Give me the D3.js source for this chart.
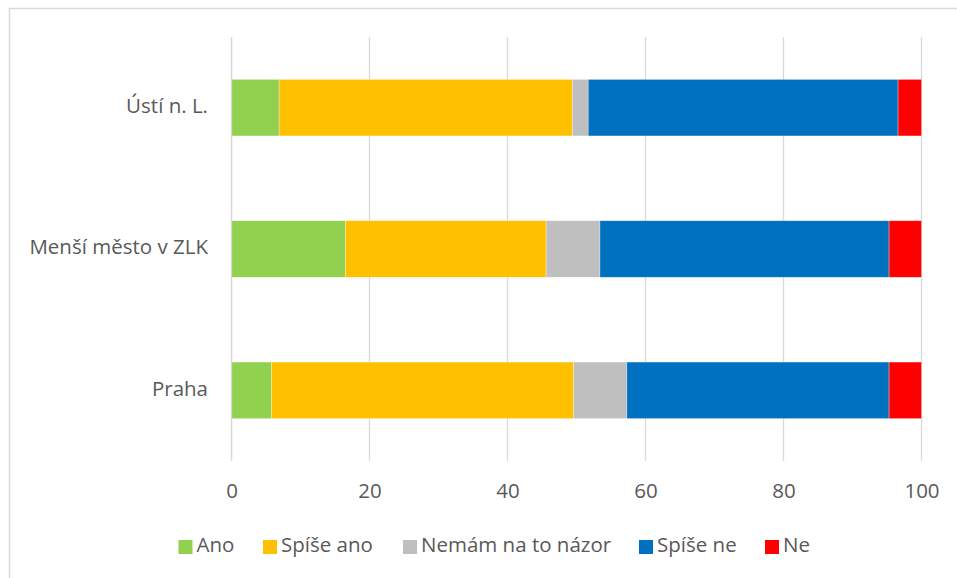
<!DOCTYPE html>
<html>
<head>
<meta charset="utf-8">
<script src="https://cdn.jsdelivr.net/npm/d3@7"></script>
<style>
  html, body { margin: 0; padding: 0; background: #fff; }
  svg { display: block; }
  text { font-family: "Open Sans", sans-serif; fill: #595959; }
</style>
</head>
<body>
<svg id="chart" width="957" height="578"></svg>
<script>
const categories = ["Ústí n. L.", "Menší město v ZLK", "Praha"];
const seriesNames = ["Ano", "Spíše ano", "Nemám na to názor", "Spíše ne", "Ne"];
const seriesColors = ["#92d050", "#ffc000", "#bfbfbf", "#0070c0", "#ff0000"];
const ano       = [6.9, 16.5, 5.8];
const spiseAno  = [42.5, 29.1, 43.8];
const nemam     = [2.3, 7.8, 7.7];
const spiseNe   = [44.9, 41.9, 38.0];
const ne        = [3.4, 4.7, 4.7];
const xTicks = [0, 20, 40, 60, 80, 100];

const seriesValues = [ano, spiseAno, nemam, spiseNe, ne];
const rows = categories.map((c, i) => {
  const r = { category: c };
  seriesNames.forEach((s, j) => r[s] = seriesValues[j][i]);
  return r;
});

const svg = d3.select("#chart");
const margin = { left: 231.5, right: 957 - 921.5, top: 37, bottom: 578 - 461 };

// chart frame
svg.append("rect")
  .attr("x", 9.5).attr("y", 8.5)
  .attr("width", 1000).attr("height", 1000)
  .attr("fill", "#fff").attr("stroke", "#d9d9d9").attr("stroke-width", 1.5);

const x = d3.scaleLinear().domain([0, 100]).range([margin.left, 957 - margin.right]);
const y = d3.scaleBand().domain(categories)
  .range([margin.top, 578 - margin.bottom])
  .paddingInner(0.6).paddingOuter(0.3);

// gridlines
svg.append("g").selectAll("line").data(xTicks).join("line")
  .attr("x1", d => x(d)).attr("x2", d => x(d))
  .attr("y1", margin.top).attr("y2", 578 - margin.bottom)
  .attr("stroke", "#d9d9d9").attr("stroke-width", 1.3);

const stack = d3.stack().keys(seriesNames)(rows);

svg.append("g").selectAll("g").data(stack).join("g")
  .attr("fill", (d, i) => seriesColors[i])
  .selectAll("rect").data(d => d).join("rect")
  .attr("x", d => x(d[0]))
  .attr("width", d => x(d[1]) - x(d[0]))
  .attr("y", d => y(d.data.category))
  .attr("height", y.bandwidth())
  .attr("stroke", "#fff").attr("stroke-opacity", 0.5).attr("stroke-width", 0.6);

// x axis labels
const xAxis = d3.axisBottom(x).tickValues(xTicks).tickSize(0).tickPadding(0);
const gx = svg.append("g").attr("transform", `translate(0,${578 - margin.bottom})`).call(xAxis);
gx.select(".domain").remove();
gx.selectAll("text")
  .attr("dy", null).attr("y", 32)
  .attr("dominant-baseline", "middle")
  .style("font-size", "20.5px").style("font-family", "'Open Sans', sans-serif")
  .attr("fill", "#595959");

// y axis labels
const yAxis = d3.axisLeft(y).tickSize(0).tickPadding(0);
const gy = svg.append("g").attr("transform", `translate(${208},0)`).call(yAxis);
gy.select(".domain").remove();
gy.selectAll("text")
  .attr("dy", null).attr("dominant-baseline", "middle")
  .style("font-size", "20.5px").style("font-family", "'Open Sans', sans-serif")
  .attr("fill", "#595959");

// left axis line
svg.append("line")
  .attr("x1", x(0)).attr("x2", x(0))
  .attr("y1", margin.top).attr("y2", 578 - margin.bottom)
  .attr("stroke", "#d9d9d9").attr("stroke-width", 1.3);

// legend
const legendX = [178.5, 263, 403, 639, 765];
const legend = svg.append("g").selectAll("g").data(seriesNames).join("g")
  .attr("transform", (d, i) => `translate(${legendX[i]},547)`);
legend.append("rect")
  .attr("x", 0).attr("y", -7).attr("width", 14).attr("height", 14)
  .attr("fill", (d, i) => seriesColors[i]);
legend.append("text")
  .attr("x", 18).attr("y", 0)
  .attr("dominant-baseline", "middle")
  .style("font-size", "20.5px")
  .text(d => d);
</script>
</body>
</html>
